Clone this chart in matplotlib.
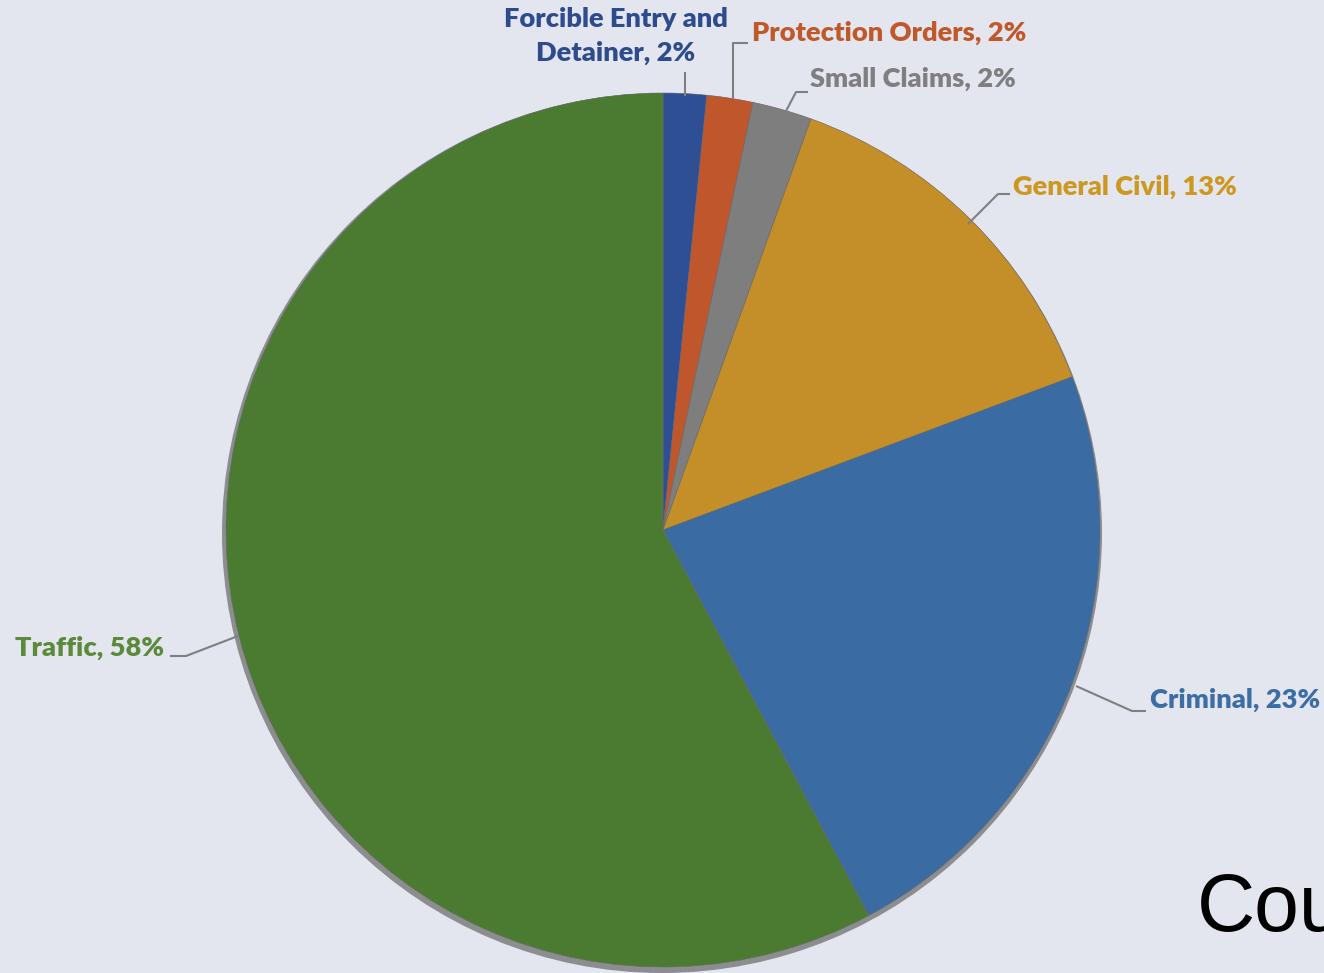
import matplotlib
matplotlib.use("Agg")
import matplotlib.pyplot as plt
from matplotlib.patches import Circle

categories = ["Forcible Entry and\nDetainer", "Protection Orders", "Small Claims",
              "General Civil", "Criminal", "Traffic"]
values = [1.6, 1.7, 2.2, 13.8, 22.9, 57.8]
pct_labels = ["2%", "2%", "2%", "13%", "23%", "58%"]

wedge_colors = ["#2F4F94", "#C0572C", "#7E7E7E", "#C48F28", "#3A6BA3", "#4A7B31"]
text_colors = ["#2E4B8E", "#C0582A", "#7F7F7F", "#CC981F", "#3C6EA5", "#5A8A3A"]

W, H = 1324, 973
fig = plt.figure(figsize=(W / 100, H / 100), dpi=100)
bg = "#E3E6EE"
fig.patch.set_facecolor(bg)
ax = fig.add_axes([0, 0, 1, 1])
ax.set_xlim(0, W)
ax.set_ylim(0, H)
ax.set_aspect("equal")
ax.axis("off")

def Y(yp):
    return H - yp

cx, cy, r = 663, Y(530), 437

# shadow
ax.add_patch(Circle((cx - 1, cy - 3), r + 3, color="#6F6F6F", alpha=0.75, zorder=1, lw=0))

wedges, _ = ax.pie(values, startangle=90, counterclock=False, colors=wedge_colors,
                   center=(cx, cy), radius=r, frame=True,
                   wedgeprops=dict(linewidth=0.4, edgecolor="#6a6a6a"))
for w in wedges:
    w.set_zorder(2)
ax.set_xlim(0, W)
ax.set_ylim(0, H)
ax.axis("off")

line_kw = dict(color="#7F7F7F", lw=1.5, zorder=3, solid_capstyle="butt")
font = dict(family=["Lato", "DejaVu Sans"], fontweight="heavy", fontsize=19.6)

# leader lines (pixel coords)
leaders = [
    [(685, 96), (685, 72)],
    [(733, 99), (733, 43), (748, 43)],
    [(785, 113), (796, 92), (808, 92)],
    [(968, 224), (998, 194), (1010, 194)],
    [(1076, 686), (1132, 711), (1146, 711)],
    [(238, 636), (186, 656), (170, 656)],
]
for pts in leaders:
    xs = [p[0] for p in pts]
    ys = [Y(p[1]) for p in pts]
    ax.plot(xs, ys, **line_kw)

# labels
label_pos = [
    (616, 36, "center"),
    (752, 33, "left"),
    (810, 79, "left"),
    (1013, 187, "left"),
    (1150, 700, "left"),
    (15, 648, "left"),
]
for cat, pct, col, (x, y, ha) in zip(categories, pct_labels, text_colors, label_pos):
    ax.text(x, Y(y), f"{cat}, {pct}", color=col, ha=ha, va="center",
            linespacing=1.45, zorder=4, **font)

ax.text(1197, Y(910), "Cou", fontsize=58, family="Liberation Sans", color="black",
        ha="left", va="center", zorder=4)

fig.savefig("out.png", dpi=100, facecolor=bg)
